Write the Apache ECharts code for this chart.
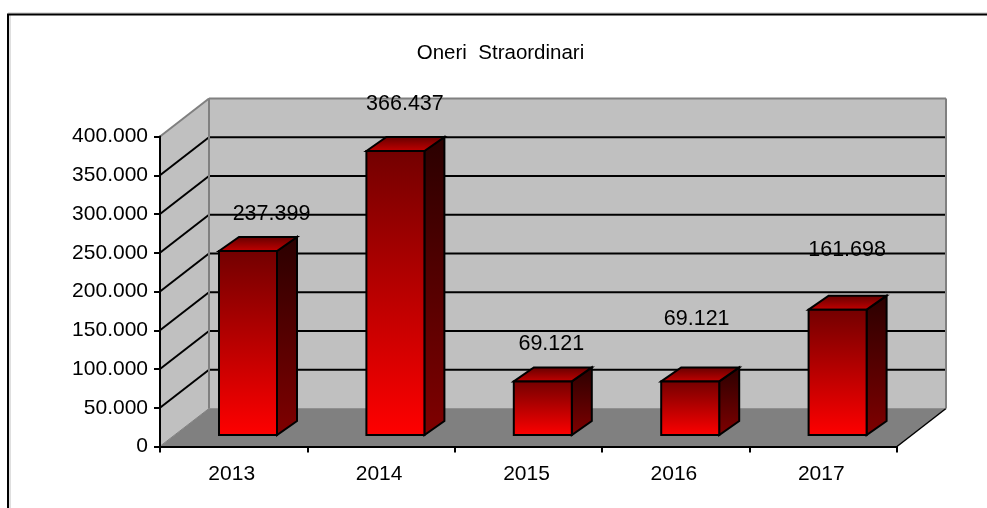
<!DOCTYPE html>
<html>
<head>
<meta charset="utf-8">
<style>html,body{margin:0;padding:0;background:#fff}#c{width:987px;height:508px}</style>
<script src="https://cdn.jsdelivr.net/npm/echarts@6/dist/echarts.min.js"></script>
</head>
<body>
<div id="c"></div>
<script>
const titleText = 'Oneri  Straordinari';
const categories = ['2013', '2014', '2015', '2016', '2017'];
const values = [237399, 366437, 69121, 69121, 161698];
const yTicks = [0, 50000, 100000, 150000, 200000, 250000, 300000, 350000, 400000];
const yMax = 400000;

// 3D projection and hand-placed label offsets (pixels), kept apart from the data
const depth = { x: 49, y: -38 };
const barFront = { x: 14.3, y: -11.5 };
const barDepth = { x: 20, y: -14 };
const barWidth = 58;
const labelShift = [[23, -37], [9, -47], [8, -37], [6, -62], [9, -60]];

const fmt = v => String(v).replace(/\B(?=(\d{3})+$)/g, '.');
const font = 'Liberation Sans, Arial, sans-serif';
const vgrad = (a, b) => ({ type: 'linear', x: 0, y: 0, x2: 0, y2: 1, colorStops: [{ offset: 0, color: a }, { offset: 1, color: b }] });
const poly = (points, fill, stroke, lw) => ({
  type: 'polygon', shape: { points },
  style: { fill: fill, stroke: stroke || null, lineWidth: lw || 0, lineJoin: 'miter' }
});
const line = (p, q, stroke, lw) => ({
  type: 'line', shape: { x1: p[0], y1: p[1], x2: q[0], y2: q[1] },
  style: { stroke: stroke, lineWidth: lw }
});

function renderWalls(params, api) {
  const cs = params.coordSys;
  const L = cs.x, R = cs.x + cs.width, T = cs.y, B = cs.y + cs.height;
  const dx = depth.x, dy = depth.y;
  return { type: 'group', children: [
    poly([[L + dx, T + dy], [R + dx, T + dy], [R + dx, B + dy], [L + dx, B + dy]], '#c0c0c0'),
    poly([[L, T], [L + dx, T + dy], [L + dx, B + dy], [L, B]], '#c0c0c0'),
    poly([[L, B], [L + dx, B + dy], [R + dx, B + dy], [R, B]], '#808080'),
    line([L + dx, B + dy], [R + dx, B + dy], '#909090', 1),
    line([L + 1, B - 1], [L + dx, B + dy], '#808080', 1),
    line([R, B], [R + dx, B + dy], '#000000', 1.5)
  ] };
}

function renderEdges(params, api) {
  const cs = params.coordSys;
  const L = cs.x, R = cs.x + cs.width, T = cs.y, B = cs.y + cs.height;
  const dx = depth.x, dy = depth.y;
  return { type: 'group', children: [
    line([L, T], [L + dx, T + dy], '#808080', 2),
    line([L + dx, T + dy], [R + dx, T + dy], '#808080', 2),
    line([R + dx, T + dy], [R + dx, B + dy], '#808080', 2),
    line([L + dx, T + dy], [L + dx, B + dy], '#808080', 2)
  ] };
}

function renderGrid(params, api) {
  const cs = params.coordSys;
  const v = api.value(0);
  if (v === 0 || v === yMax) return { type: 'group', children: [] };
  const y = api.coord([0, v])[1];
  const L = cs.x, R = cs.x + cs.width;
  return { type: 'group', children: [
    line([L, y], [L + depth.x, y + depth.y], '#000000', 2),
    line([L + depth.x, y + depth.y], [R + depth.x, y + depth.y], '#000000', 2)
  ] };
}

function renderBar(params, api) {
  const i = api.value(0);
  const v = api.value(1);
  const c = api.coord([i, v]);
  const b = api.coord([i, 0]);
  const x0 = c[0] + barFront.x - barWidth / 2;
  const x1 = x0 + barWidth;
  const yT = c[1] + barFront.y;
  const yB = b[1] + barFront.y;
  const dx = barDepth.x, dy = barDepth.y;
  return { type: 'group', children: [
    poly([[x1, yT], [x1 + dx, yT + dy], [x1 + dx, yB + dy], [x1, yB]], vgrad('#2a0000', '#800000'), '#000', 2),
    poly([[x0, yT], [x0 + dx, yT + dy], [x1 + dx, yT + dy], [x1, yT]], vgrad('#600000', '#c80000'), '#000', 2),
    poly([[x0, yT], [x1, yT], [x1, yB], [x0, yB]], vgrad('#720000', '#ff0000'), '#000', 2)
  ] };
}

function renderLabel(params, api) {
  const i = api.value(0);
  const v = api.value(1);
  const c = api.coord([i, v]);
  const s = labelShift[i];
  return {
    type: 'text', z2: 100,
    x: c[0] + 14.8 + s[0], y: c[1] + barFront.y + s[1],
    style: { text: fmt(v), font: '21.5px ' + font, fill: '#000', align: 'center', verticalAlign: 'middle' }
  };
}

const chart = echarts.init(document.getElementById('c'), null, { renderer: 'canvas' });
chart.setOption({
  animation: false,
  backgroundColor: '#ffffff',
  title: {
    text: titleText, left: 495.5, top: 38, textAlign: 'center',
    textStyle: { fontFamily: font, fontSize: 20.5, fontWeight: 'normal', color: '#000' }
  },
  grid: { left: 160, top: 136.5, width: 737, height: 310, containLabel: false },
  xAxis: {
    type: 'category', data: categories, boundaryGap: true,
    axisLine: { lineStyle: { color: '#000', width: 2 } },
    axisTick: { show: true, length: 6, alignWithLabel: false, lineStyle: { color: '#000', width: 2 } },
    axisLabel: { color: '#000', fontFamily: font, fontSize: 21, margin: 17, padding: [0, 4, 0, 0] },
    splitLine: { show: false }, z: 5
  },
  yAxis: {
    type: 'value', min: 0, max: yMax, interval: 50000,
    axisLine: { show: true, lineStyle: { color: '#000', width: 2 } },
    axisTick: { show: true, length: 6, lineStyle: { color: '#000', width: 2 } },
    axisLabel: { color: '#000', fontFamily: font, fontSize: 21, margin: 12, formatter: fmt },
    splitLine: { show: false }, z: 5
  },
  graphic: [
    { type: 'line', shape: { x1: 8, y1: 13, x2: 987, y2: 13 }, style: { stroke: '#c0c0c0', lineWidth: 1 }, silent: true },
    { type: 'line', shape: { x1: 10, y1: 14, x2: 10, y2: 508 }, style: { stroke: '#c0c0c0', lineWidth: 1 }, silent: true },
    { type: 'line', shape: { x1: 7, y1: 14.5, x2: 987, y2: 14.5 }, style: { stroke: '#000', lineWidth: 2 }, silent: true },
    { type: 'line', shape: { x1: 8, y1: 14, x2: 8, y2: 508 }, style: { stroke: '#000', lineWidth: 2 }, silent: true }
  ],
  series: [
    { type: 'custom', name: 'walls', coordinateSystem: 'cartesian2d', data: [[0, 0]], renderItem: renderWalls, z: 1, silent: true, clip: false },
    { type: 'custom', name: 'grid', coordinateSystem: 'cartesian2d', data: yTicks.map(t => [t]), encode: { y: 0 }, renderItem: renderGrid, z: 2, silent: true, clip: false },
    { type: 'custom', name: 'edges', coordinateSystem: 'cartesian2d', data: [[0, 0]], renderItem: renderEdges, z: 2.5, silent: true, clip: false },
    { type: 'custom', name: 'Oneri Straordinari', coordinateSystem: 'cartesian2d', data: values.map((v, i) => [i, v]), renderItem: renderBar, z: 3, silent: true, clip: false },
    { type: 'custom', name: 'labels', coordinateSystem: 'cartesian2d', data: values.map((v, i) => [i, v]), renderItem: renderLabel, z: 6, silent: true, clip: false }
  ]
});
</script>
</body>
</html>
